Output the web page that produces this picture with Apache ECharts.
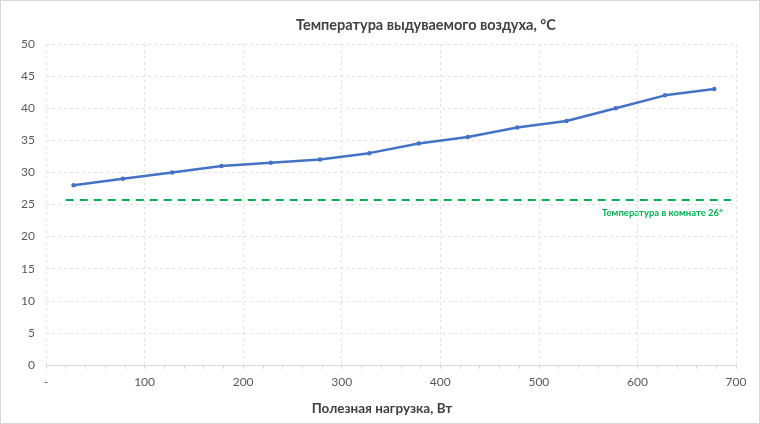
<!DOCTYPE html>
<html><head><meta charset="utf-8">
<script src="https://cdn.jsdelivr.net/npm/echarts@6/dist/echarts.min.js"></script>
<style>
html,body{margin:0;padding:0;background:#fff;}
#c{width:758px;height:422px;border:1px solid #d9d9d9;}
</style></head><body>
<div id="c"></div>
<script>
const loads = [28, 78, 128, 178, 228, 278, 328, 378, 428, 478, 528, 578, 628, 678];
const airTemp = [28, 29, 30, 31, 31.5, 32, 33, 34.5, 35.5, 37, 38, 40, 42, 43];
const roomX = [20, 695];
const roomTemp = [25.7, 25.7];
const roomLabel = 'Температура в комнате 26°';
const titleText = 'Температура выдуваемого воздуха, °C';
const xName = 'Полезная нагрузка, Вт';

const chart = echarts.init(document.getElementById('c'));
const font = 'Lato, "Noto Sans", sans-serif';
chart.setOption({
  animation: false,
  title: {
    text: titleText, left: 290, top: 12,
    textStyle: {fontFamily: font, fontSize: 14.5, fontWeight: 'bold', color: '#404040'}
  },
  grid: {left: 45, right: 23, top: 43, bottom: 58},
  xAxis: {
    type: 'value', min: 0, max: 700, interval: 100,
    name: xName, nameLocation: 'middle', nameGap: 37,
    nameTextStyle: {fontFamily: font, fontSize: 13.5, fontWeight: 'bold', color: '#404040', padding: [0, 18, 0, 0]},
    axisLine: {show: true, lineStyle: {color: '#d9d9d9'}},
    axisTick: {show: true, length: 4, lineStyle: {color: '#d9d9d9'}},
    minorTick: {show: true, splitNumber: 5, length: 4, lineStyle: {color: '#d9d9d9'}},
    axisLabel: {fontFamily: font, fontSize: 12, color: '#595959', margin: 11,
      formatter: v => v === 0 ? '-' : String(v)},
    splitLine: {show: true, lineStyle: {color: '#e3e3e3', type: [3, 3]}}
  },
  yAxis: {
    type: 'value', min: 0, max: 50, interval: 5,
    axisLine: {show: false}, axisTick: {show: false},
    axisLabel: {fontFamily: font, fontSize: 12, color: '#595959', margin: 11},
    splitLine: {show: true, lineStyle: {color: '#e3e3e3', type: [3, 3]}}
  },
  series: [
    {
      type: 'line', data: roomX.map((x, i) => [x, roomTemp[i]]),
      symbol: 'none', lineStyle: {color: '#00B050', width: 2, type: [8, 6]}, z: 2
    },
    {
      type: 'line', data: loads.map((x, i) => [x, airTemp[i]]),
      symbol: 'circle', symbolSize: 4.5,
      itemStyle: {color: '#4472C4'},
      lineStyle: {color: '#4472C4', width: 2.5}, z: 3
    }
  ],
  graphic: [{
    type: 'text', right: 36, top: 207,
    style: {text: roomLabel, fill: '#00B050', font: 'bold 9.5px Lato, sans-serif'}
  }]
});
</script>
</body></html>
